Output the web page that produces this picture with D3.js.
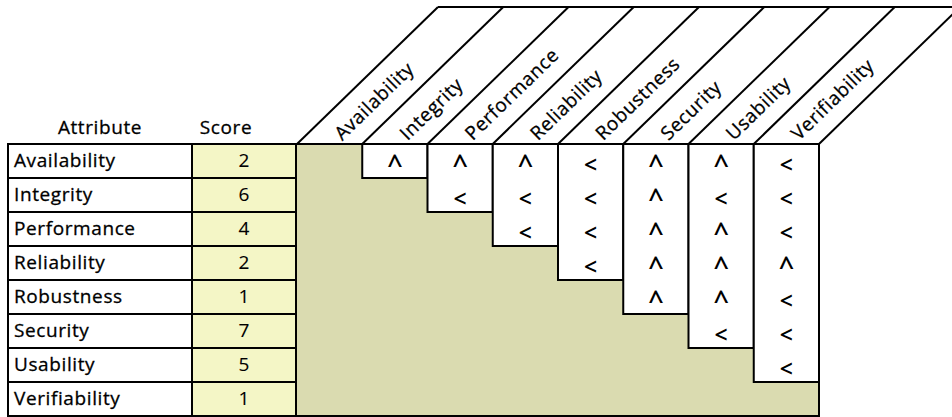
<!DOCTYPE html>
<html><head><meta charset="utf-8">
<script src="https://cdn.jsdelivr.net/npm/d3@7"></script>
<style>body{margin:0;background:#fff}svg{display:block}</style>
</head><body>
<script>
const attributes = ["Availability","Integrity","Performance","Reliability","Robustness","Security","Usability","Verifiability"];
const scores = [2,6,4,2,1,7,5,1];
// comparisons[row] = symbols for columns row+1 .. 7
const comparisons = [
  ["^","^","^","<","^","^","<"],
  ["<","<","<","^","<","<"],
  ["<","<","^","^","<"],
  ["<","^","^","^"],
  ["^","^","<"],
  ["<","<"],
  ["<"]
];
const headers = ["Attribute","Score"];

const W=952,H=417;
const FONT="'Open Sans', sans-serif";
const FS=19, LS="0.6px";
const svg=d3.select("body").append("svg").attr("width",W).attr("height",H);

const top0=144, bot=416;
const y=d3.scaleBand().domain(attributes).range([top0,bot]);
const mx=d3.scaleBand().domain(attributes).range([297,819]);
const attrX0=8, attrX1=192, scoreX1=296;
const dx=141, topY=7;
const LW=2;

function txt(sel){
  return sel.attr("font-family",FONT).attr("font-size",FS).attr("letter-spacing",LS)
    .attr("fill","#000").attr("stroke","#000").attr("stroke-width",0.3);
}

// matrix background
svg.append("rect").attr("x",scoreX1).attr("y",top0).attr("width",mx.range()[1]-scoreX1).attr("height",bot-top0)
  .attr("fill","#dadbb0").attr("stroke","#000").attr("stroke-width",LW);

// attribute & score cells
const rows=svg.append("g");
attributes.forEach((a,i)=>{
  rows.append("rect").attr("x",attrX0).attr("y",y(a)).attr("width",attrX1-attrX0).attr("height",y.bandwidth())
    .attr("fill","#fff").attr("stroke","#000").attr("stroke-width",LW);
  rows.append("rect").attr("x",attrX1).attr("y",y(a)).attr("width",scoreX1-attrX1).attr("height",y.bandwidth())
    .attr("fill","#f4f6c6").attr("stroke","#000").attr("stroke-width",LW);
  txt(rows.append("text").attr("x",attrX0+6).attr("y",y(a)+y.bandwidth()/2).attr("dy","0.32em")).text(a);
  txt(rows.append("text").attr("x",(attrX1+scoreX1)/2).attr("y",y(a)+y.bandwidth()/2).attr("dy","0.32em")
    .attr("text-anchor","middle")).attr("letter-spacing",null).attr("stroke-width",0.1).text(scores[i]);
});

// header labels
txt(svg.append("text").attr("x",(attrX0+attrX1)/2).attr("y",134).attr("text-anchor","middle")).text(headers[0]);
txt(svg.append("text").attr("x",226).attr("y",134).attr("text-anchor","middle")).text(headers[1]);

// white upper-triangle columns
attributes.forEach((a,c)=>{
  if(c===0) return;
  svg.append("rect").attr("x",mx(a)).attr("y",top0).attr("width",mx.bandwidth()).attr("height",c*y.bandwidth())
    .attr("fill","#fff").attr("stroke","#000").attr("stroke-width",LW);
});

// symbols
comparisons.forEach((row,r)=>{
  row.forEach((s,k)=>{
    const c=r+1+k;
    svg.append("text").attr("x",mx(attributes[c])+mx.bandwidth()/2)
      .attr("y",y(attributes[r]) + (s==="^" ? 29.5 : 28.5))
      .attr("text-anchor","middle").attr("font-family",FONT).attr("font-weight",600)
      .attr("font-size", s==="^" ? 27 : 23).text(s);
  });
});

// diagonal header
const bounds=[...attributes.map(a=>mx(a)), mx.range()[1]];
const hg=svg.append("g").attr("stroke","#000").attr("stroke-width",LW).attr("fill","none");
bounds.forEach(b=>{
  hg.append("line").attr("x1",b).attr("y1",top0).attr("x2",b+dx).attr("y2",topY);
});
hg.append("line").attr("x1",bounds[0]+dx).attr("y1",topY).attr("x2",W).attr("y2",topY);
hg.append("line").attr("x1",scoreX1).attr("y1",top0).attr("x2",mx.range()[1]).attr("y2",top0);

const ang=Math.atan2(top0-topY,dx)*180/Math.PI;
attributes.forEach(a=>{
  const cx=mx(a)+mx.bandwidth()/2;
  txt(svg.append("text").attr("transform",`translate(${cx},${top0}) rotate(${-ang}) translate(11,0)`)
    .attr("dy","0.36em")).text(a);
});
</script>
</body></html>
